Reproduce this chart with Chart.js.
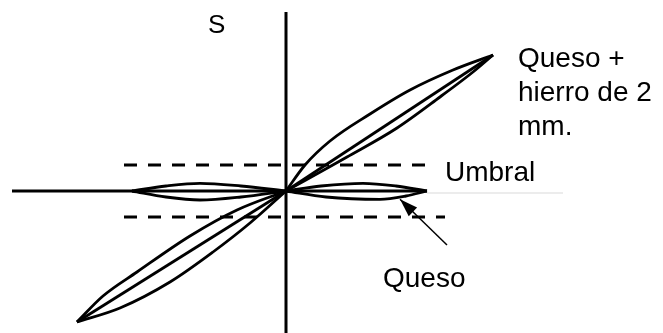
<!DOCTYPE html>
<html>
<head>
<meta charset="utf-8">
<script src="https://cdn.jsdelivr.net/npm/chart.js@4.4.0/dist/chart.umd.min.js"></script>
<style>
  html, body { margin: 0; padding: 0; background: #fff; }
  #wrap { width: 663px; height: 333px; }
</style>
</head>
<body>
<div id="wrap"><canvas id="curveChart" width="663" height="333"></canvas></div>
<script>
// H runs across, S runs up; units are arbitrary
const xRange = [-2.86, 3.77];
const yRange = [-1.42, 1.91];

// axes
const sAxis = [[0, 1.79], [0, -1.42]];
const hAxisLeft = [[-2.74, 0], [0, 0]];
const hAxisRight = [[1.41, -0.02], [2.77, -0.02]];

// threshold lines (Umbral)
const umbralUp = [[-1.62, 0.26], [1.40, 0.26]];
const umbralDown = [[-1.62, -0.26], [1.59, -0.26]];

// Queso + hierro de 2 mm, right-upper lobe
const hierroUpA = [[0, 0], [0.19, 0.26], [0.44, 0.50], [0.84, 0.77], [1.24, 1.01], [1.67, 1.21], [2.07, 1.36]];
const hierroUpMid = [[0, 0], [2.07, 1.36]];
const hierroUpB = [[0, 0], [0.61, 0.34], [1.11, 0.63], [1.54, 0.94], [1.87, 1.19], [2.07, 1.36]];

// Queso + hierro de 2 mm, left-lower lobe
const hierroDownA = [[-2.09, -1.31], [-1.83, -1.05], [-1.49, -0.81], [-0.96, -0.45], [-0.49, -0.19], [0, 0]];
const hierroDownMid = [[-2.09, -1.31], [0, 0]];
const hierroDownB = [[-2.09, -1.31], [-1.66, -1.17], [-1.16, -0.91], [-0.73, -0.61], [-0.36, -0.32], [0, 0]];

// Queso alone, flat lobes
const quesoLeftUp = [[-1.54, 0], [-1.2, 0.05], [-0.86, 0.077], [-0.45, 0.05], [0, 0]];
const quesoLeftDown = [[-1.54, 0], [-1.2, -0.06], [-0.86, -0.09], [-0.45, -0.06], [0, 0]];
const quesoRightUp = [[0, 0], [0.35, 0.05], [0.77, 0.077], [1.1, 0.05], [1.41, 0]];
const quesoRightMid = [[0, 0], [1.41, 0]];
const quesoRightDown = [[0, 0], [0.4, -0.06], [0.94, -0.083], [1.2, -0.05], [1.41, 0]];

// pointer to the Queso curve
const quesoPointer = [[1.61, -0.54], [1.14, -0.083]];

const pts = arr => arr.map(p => ({ x: p[0], y: p[1] }));

function line(arr, opts) {
    return Object.assign({
        data: pts(arr),
        showLine: true,
        borderColor: '#000',
        borderWidth: 2.8,
        pointRadius: 0,
        tension: 0,
        fill: false
    }, opts || {});
}

const curve = arr => line(arr, { cubicInterpolationMode: 'monotone' });

// text labels placed in data units
const notes = [
    { text: 'S', x: -0.78, y: 1.58, size: 26 },
    { text: 'Queso +', x: 2.32, y: 1.24, size: 28 },
    { text: 'hierro de 2', x: 2.32, y: 0.905, size: 28 },
    { text: 'mm.', x: 2.32, y: 0.565, size: 28 },
    { text: 'Umbral', x: 1.59, y: 0.10, size: 28 },
    { text: 'Queso', x: 0.97, y: -0.96, size: 28 }
];

const notesPlugin = {
    id: 'notes',
    afterDatasetsDraw(chart) {
        const ctx = chart.ctx;
        const xs = chart.scales.x, ys = chart.scales.y;
        ctx.save();
        ctx.fillStyle = '#000';
        ctx.textAlign = 'left';
        ctx.textBaseline = 'alphabetic';
        notes.forEach(n => {
            ctx.font = n.size + 'px "Liberation Sans", Arial, sans-serif';
            ctx.fillText(n.text, xs.getPixelForValue(n.x), ys.getPixelForValue(n.y));
        });
        // arrow head on the pointer line
        const meta = chart.getDatasetMeta(chart.data.datasets.length - 1);
        const a = meta.data[0], b = meta.data[1];
        const ang = Math.atan2(b.y - a.y, b.x - a.x);
        const len = 18, half = 6;
        ctx.beginPath();
        ctx.moveTo(b.x, b.y);
        ctx.lineTo(b.x - len * Math.cos(ang) + half * Math.sin(ang), b.y - len * Math.sin(ang) - half * Math.cos(ang));
        ctx.lineTo(b.x - len * Math.cos(ang) - half * Math.sin(ang), b.y - len * Math.sin(ang) + half * Math.cos(ang));
        ctx.closePath();
        ctx.fill();
        ctx.restore();
    }
};

new Chart(document.getElementById('curveChart'), {
    type: 'scatter',
    data: {
        datasets: [
            line(hAxisRight, { borderColor: '#d9d9d9', borderWidth: 1 }),
            line(umbralUp, { borderDash: [13, 11], borderWidth: 3 }),
            line(umbralDown, { borderDash: [13, 11], borderWidth: 3 }),
            line(sAxis, { borderWidth: 3 }),
            line(hAxisLeft, { borderWidth: 3 }),
            curve(hierroUpA), line(hierroUpMid), curve(hierroUpB),
            curve(hierroDownA), line(hierroDownMid), curve(hierroDownB),
            curve(quesoLeftUp), curve(quesoLeftDown),
            curve(quesoRightUp), line(quesoRightMid), curve(quesoRightDown),
            line(quesoPointer, { borderWidth: 1.5 })
        ]
    },
    options: {
        responsive: false,
        animation: false,
        layout: { padding: 0 },
        scales: {
            x: { type: 'linear', min: xRange[0], max: xRange[1], display: false },
            y: { type: 'linear', min: yRange[0], max: yRange[1], display: false }
        },
        plugins: {
            legend: { display: false },
            tooltip: { enabled: false }
        }
    },
    plugins: [notesPlugin]
});
</script>
</body>
</html>
